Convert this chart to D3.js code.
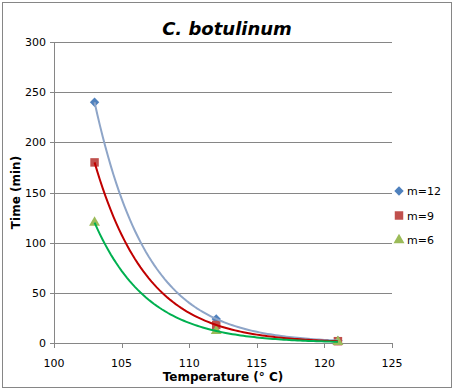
<!DOCTYPE html>
<head>
  <meta charset="utf-8">
  <script src="https://d3js.org/d3.v7.min.js"></script>
  <style>
    body { margin:0; background:#fff; }
    text { font-family: 'DejaVu Sans', Verdana, sans-serif; fill: #000; }
    .tick-label { font-size: 11px; }
    .axis-title { font-size: 12px; font-weight: 700; }
    .title { font-size: 18px; font-weight: 700; font-style: italic; }
    .grid-line { stroke: #868686; stroke-width: 1; }
    .trend { fill: none; stroke-width: 2; }
  </style>
</head>
<body>
  <script>
    // data
    var temps = [103, 112, 121];
    var seriesNames = ["m=12", "m=9", "m=6"];
    var m12 = [240, 24, 2.4];
    var m9 = [180, 18, 1.8];
    var m6 = [120, 12, 1.2];
    var xTicks = [100, 105, 110, 115, 120, 125];
    var yTicks = [0, 50, 100, 150, 200, 250, 300];

    var W = 454, H = 391;
    var margin = {top: 42, right: 62, bottom: 48, left: 54};
    var width = W - margin.left - margin.right,
        height = H - margin.top - margin.bottom;

    var series = [
      {name: seriesNames[0], values: m12, marker: "#4F81BD", line: "#8EA5C8", shape: d3.symbolSquare, size: 44, rot: 45},
      {name: seriesNames[1], values: m9, marker: "#C0504D", line: "#C00000", shape: d3.symbolSquare, size: 72, rot: 0},
      {name: seriesNames[2], values: m6, marker: "#9BBB59", line: "#00B050", shape: d3.symbolTriangle, size: 52, rot: 0}
    ];

    var svgRoot = d3.select("body").append("svg")
        .attr("width", W)
        .attr("height", H);

    // outer chart border
    svgRoot.append("rect")
      .attr("x", 2.5).attr("y", 2.5)
      .attr("width", W - 5).attr("height", H - 6)
      .attr("fill", "#fff")
      .attr("stroke", "#868686");

    var svg = svgRoot.append("g")
        .attr("transform", "translate(" + margin.left + "," + margin.top + ")");

    var x = d3.scaleLinear().domain([100, 125]).range([0, width]);
    var y = d3.scaleLinear().domain([0, 300]).range([height, 0]);

    // horizontal gridlines with little ticks to the left
    svg.append("g").selectAll("line")
      .data(yTicks)
      .enter().append("line")
        .attr("class", "grid-line")
        .attr("x1", -4)
        .attr("x2", width)
        .attr("y1", d => Math.round(y(d)) + 0.5)
        .attr("y2", d => Math.round(y(d)) + 0.5);

    svg.append("line")
      .attr("class", "grid-line")
      .attr("x1", 0.5).attr("x2", 0.5)
      .attr("y1", 0).attr("y2", height);

    svg.append("g").selectAll("line")
      .data(xTicks)
      .enter().append("line")
        .attr("class", "grid-line")
        .attr("x1", d => Math.round(x(d)) + 0.5)
        .attr("x2", d => Math.round(x(d)) + 0.5)
        .attr("y1", height)
        .attr("y2", height + 5);

    svg.append("g").selectAll("text")
      .data(yTicks)
      .enter().append("text")
        .attr("class", "tick-label")
        .attr("x", -8)
        .attr("y", d => y(d) + 4)
        .attr("text-anchor", "end")
        .text(d => d);

    svg.append("g").selectAll("text")
      .data(xTicks)
      .enter().append("text")
        .attr("class", "tick-label")
        .attr("x", d => x(d))
        .attr("y", height + 24)
        .attr("text-anchor", "middle")
        .text(d => d);

    // markers
    series.forEach(function(s) {
      svg.append("g").selectAll("path")
        .data(s.values.map((v, i) => ({t: temps[i], v: v})))
        .enter().append("path")
          .attr("transform", d => "translate(" + x(d.t) + "," + y(d.v) + ") rotate(" + s.rot + ")")
          .attr("d", d3.symbol().type(s.shape).size(s.size))
          .attr("fill", s.marker);
    });

    // exponential trendlines (least squares on ln y)
    function expFit(xs, ys) {
      var ly = ys.map(Math.log);
      var mx = d3.mean(xs), my = d3.mean(ly);
      var b = d3.sum(xs, (d, i) => (d - mx) * (ly[i] - my)) / d3.sum(xs, d => (d - mx) * (d - mx));
      var a = Math.exp(my - b * mx);
      return t => a * Math.exp(b * t);
    }

    var line = d3.line()
      .x(d => x(d[0]))
      .y(d => y(d[1]));

    series.forEach(function(s) {
      var f = expFit(temps, s.values);
      var pts = d3.range(temps[0], temps[temps.length - 1] + 0.001, 0.2).map(t => [t, f(t)]);
      svg.append("path")
        .attr("class", "trend")
        .attr("d", line(pts))
        .attr("stroke", s.line);
    });

    // title and axis titles
    svgRoot.append("text")
      .attr("class", "title")
      .attr("x", margin.left + width / 2 + 4)
      .attr("y", 35)
      .attr("text-anchor", "middle")
      .text("C. botulinum");

    svgRoot.append("text")
      .attr("class", "axis-title")
      .attr("x", margin.left + width / 2)
      .attr("y", 381)
      .attr("text-anchor", "middle")
      .text("Temperature (° C)");

    svgRoot.append("text")
      .attr("class", "axis-title")
      .attr("transform", "translate(20," + (margin.top + height / 2) + ") rotate(-90)")
      .attr("text-anchor", "middle")
      .text("Time (min)");

    // legend
    var legend = svgRoot.append("g")
      .attr("transform", "translate(399,191)");
    series.forEach(function(s, i) {
      var g = legend.append("g").attr("transform", "translate(0," + (i * 24.5) + ")");
      g.append("path")
        .attr("transform", "rotate(" + s.rot + ")")
        .attr("d", d3.symbol().type(s.shape).size(s.size))
        .attr("fill", s.marker);
      g.append("text")
        .attr("class", "tick-label")
        .attr("x", 8)
        .attr("y", 4)
        .text(s.name);
    });
  </script>
</body>
